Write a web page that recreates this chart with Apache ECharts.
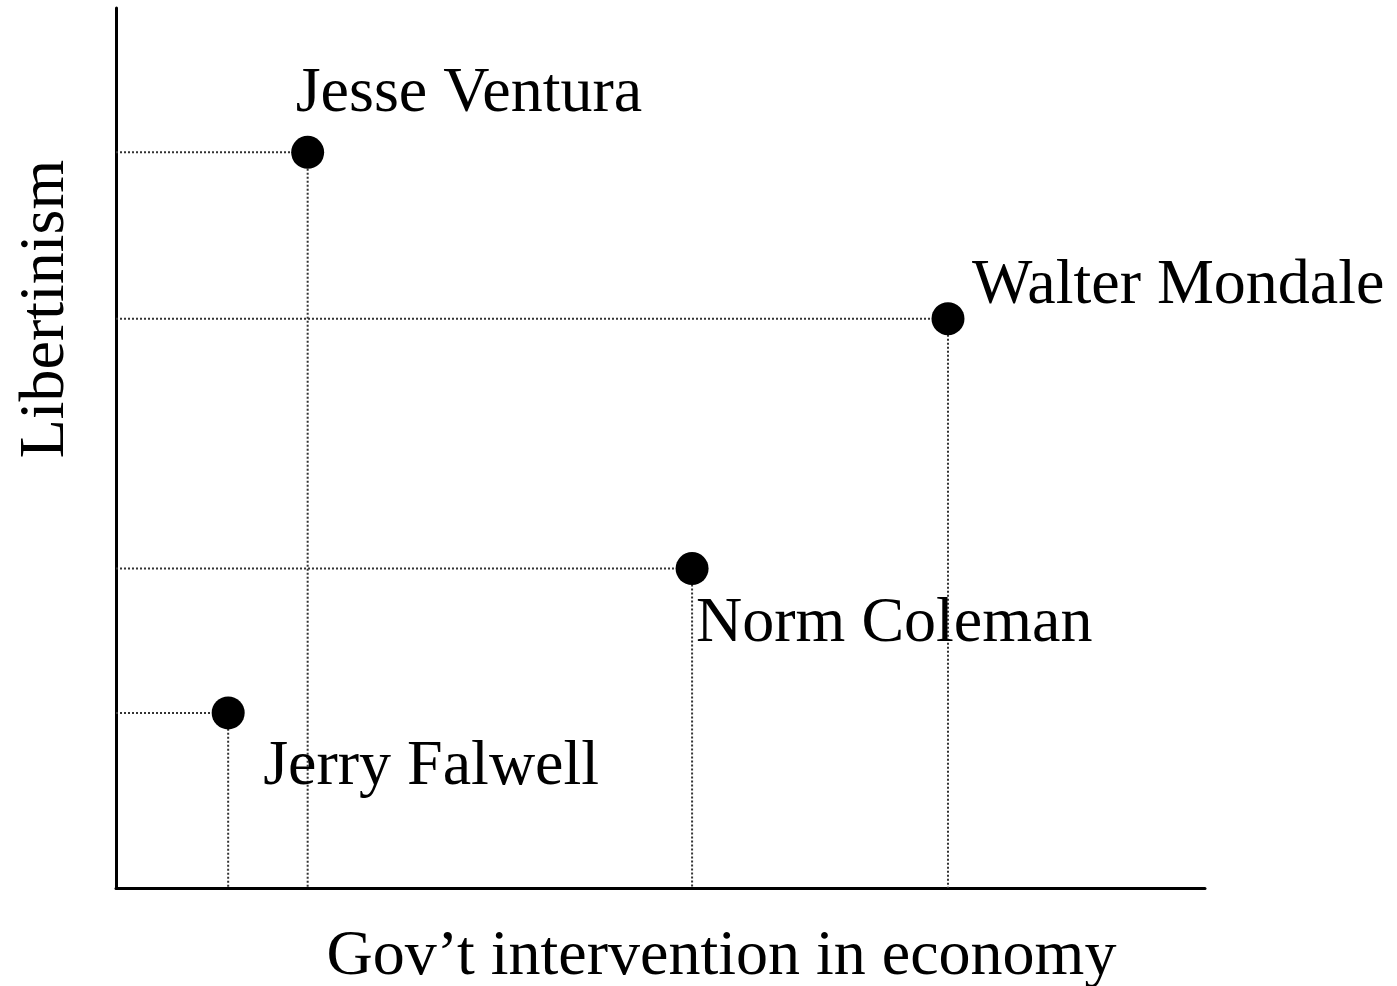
<!DOCTYPE html>
<html>
<head>
<meta charset="utf-8">
<script src="https://cdn.jsdelivr.net/npm/echarts@6/dist/echarts.min.js"></script>
<style>html,body{margin:0;padding:0;background:#fff}#c{width:1397px;height:986px}</style>
</head>
<body>
<div id="c"></div>
<script>
const names = ["Jesse Ventura", "Walter Mondale", "Norm Coleman", "Jerry Falwell"];
const govIntervention = [1.76, 7.64, 5.29, 1.03];
const libertinism = [8.36, 6.47, 3.63, 1.99];
const xTitle = "Gov\u2019t intervention in economy";
const yTitle = "Libertinism";

const labelOffsets = [[-12, -58], [24, -32], [4, 56], [35, 54]];
const FONT = '"Liberation Serif", "Times New Roman", serif';

const chart = echarts.init(document.getElementById('c'), null, {renderer: 'canvas'});

const guideSeries = names.map((n, i) => ({
  type: 'line',
  silent: true,
  symbol: 'none',
  animation: false,
  z: 1,
  lineStyle: {color: '#333', width: 2, type: [2, 2], opacity: 1},
  data: [[0, libertinism[i]], [govIntervention[i], libertinism[i]], [govIntervention[i], 0]]
}));

chart.setOption({
  animation: false,
  backgroundColor: '#fff',
  grid: {left: 116, right: 192, top: 8, bottom: 98, containLabel: false, outerBoundsMode: 'none'},
  xAxis: {
    type: 'value', min: 0, max: 10,
    name: xTitle, nameLocation: 'middle', nameGap: 37,
    nameTextStyle: {fontFamily: FONT, fontSize: 64, color: '#000', padding: [0, 0, 0, 122]},
    axisLine: {show: true, onZero: false, lineStyle: {color: '#000', width: 3}},
    axisTick: {show: false}, axisLabel: {show: false}, splitLine: {show: false}
  },
  yAxis: {
    type: 'value', min: 0, max: 10,
    name: yTitle, nameLocation: 'middle', nameGap: 38,
    nameTextStyle: {fontFamily: FONT, fontSize: 64, color: '#000', padding: [0, 0, 0, 278]},
    axisLine: {show: true, onZero: false, lineStyle: {color: '#000', width: 3}},
    axisTick: {show: false}, axisLabel: {show: false}, splitLine: {show: false}
  },
  series: guideSeries.concat([{
    type: 'scatter',
    z: 5,
    symbol: 'circle',
    symbolSize: 33,
    itemStyle: {color: '#000', opacity: 1},
    data: names.map((n, i) => ({
      name: n,
      value: [govIntervention[i], libertinism[i]],
      label: {
        show: true, position: 'inside', offset: labelOffsets[i],
        formatter: '{b}', align: 'left', verticalAlign: 'middle',
        fontFamily: FONT, fontSize: 64, color: '#000'
      }
    }))
  }])
});
</script>
</body>
</html>
